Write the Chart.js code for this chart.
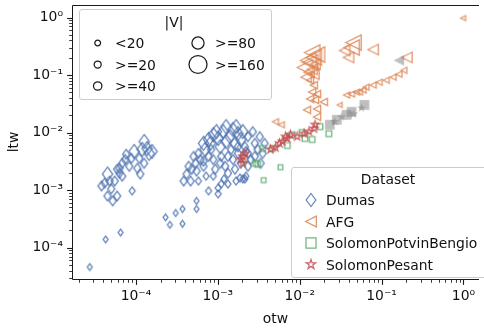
<!DOCTYPE html>
<html>
<head>
<meta charset="utf-8">
<script src="https://cdn.jsdelivr.net/npm/chart.js@4"></script>
<style>
html,body{margin:0;padding:0;background:#fff;}
#wrap{position:relative;width:484px;height:333px;overflow:hidden;font-family:'DejaVu Sans',sans-serif;}
#c{position:absolute;left:0;top:0;}
.lg{position:absolute;border:1px solid #cccccc;border-radius:3px;background:rgba(255,255,255,0.8);box-sizing:border-box;}
.t{position:absolute;font-size:13.9px;line-height:14px;color:#111;white-space:nowrap;transform:translateY(-50%);}
.tc{transform:translate(-50%,-50%);}
#lsvg{position:absolute;left:0;top:0;overflow:visible;}
</style>
</head>
<body>
<div id="wrap">
<canvas id="c" width="484" height="333"></canvas>
</div>
<script>
// ---------------- data ----------------
const dumasOtw = [1.37e-4,1.57e-4,1.19e-4,1.26e-4,1.1e-4,1.26e-4,1.04e-4,8.8e-5,7.6e-5,6.8e-5,8.3e-5,6.3e-5,6.8e-5,5.5e-5,4.5e-5,4.15e-5,3.8e-5,5.0e-5,4.5e-5,5.9e-5,5.2e-5,9.0e-5,7.4e-5,6.3e-5,1.13e-4,4.27e-5,6.5e-5,2.73e-5,
  9.5e-5,1.45e-4,5.9e-5,4.76e-5,
  2.3e-4,2.6e-4,3.06e-4,3.7e-4,3.7e-4,5.5e-4,5.5e-4,
  7.7e-4,1.01e-3,1.01e-3,1.1e-3,1.33e-3,1.67e-3,1.86e-3,2.14e-3,2.2e-3,
  3.83e-4,4.65e-4,4.16e-4,4.8e-4,5.5e-4,5.35e-4,6.1e-4,5.8e-4,7.0e-4,6.7e-4,7.7e-4,8.8e-4,9.6e-4,1.01e-3,8.3e-4,8.8e-4,9.3e-4,1.1e-3,1.23e-3,1.33e-3,6.7e-4,
  1.53e-3,1.76e-3,1.62e-3,1.91e-3,1.26e-3,2.14e-3,2.33e-3,2.53e-3,2.83e-3,3.07e-3,1.76e-3,1.53e-3,1.91e-3,2.83e-3,3.34e-3,3.73e-3,1.62e-3,1.45e-3,2.33e-3,2.02e-3,
  4.4e-4,5.05e-4,6.7e-4,7.7e-4,8.1e-4,1.07e-3,1.16e-3,1.26e-3,1.41e-3,1.67e-3,2.02e-3,2.33e-3,2.67e-3,3.25e-3,3.53e-3,2.2e-3,1.76e-3,1.33e-3,1.07e-3,7.2e-4,5.8e-4,8.8e-4,1.19e-3];
const dumasLtw = [5.3e-3,4.7e-3,5.1e-3,7.0e-3,3.57e-3,2.93e-3,2.4e-3,3.57e-3,4.2e-3,2.93e-3,2.6e-3,1.97e-3,1.75e-3,1.44e-3,1.9e-3,1.33e-3,1.18e-3,1.05e-3,7.9e-4,7.9e-4,6.5e-4,9.7e-4,3.4e-3,2.4e-3,1.9e-3,1.39e-4,1.83e-4,4.6e-5,
  4.7e-3,4.35e-3,2.31e-3,1.44e-3,
  3.36e-4,2.5e-4,4.0e-4,4.7e-4,2.6e-4,6.5e-4,4.7e-4,
  9.7e-4,1.09e-3,8.6e-4,1.28e-3,1.28e-3,1.44e-3,1.62e-3,1.56e-3,1.75e-3,
  1.44e-3,1.44e-3,1.9e-3,2.31e-3,2.14e-3,2.93e-3,3.4e-3,4.35e-3,5.1e-3,6.5e-3,7.6e-3,9.2e-3,1.04e-2,7.9e-3,5.1e-3,3.4e-3,2.31e-3,3.86e-3,2.6e-3,1.97e-3,3.17e-3,
  1.13e-2,9.6e-3,6.5e-3,7.6e-3,7.0e-3,5.7e-3,4.35e-3,3.4e-3,6.5e-3,5.1e-3,4.35e-3,3.4e-3,2.93e-3,3.86e-3,2.93e-3,6.5e-3,2.31e-3,5.1e-3,2.6e-3,1.56e-3,
  2.6e-3,3.86e-3,2.6e-3,3.86e-3,6.5e-3,5.7e-3,1.04e-2,1.27e-2,8.5e-3,1.27e-2,1.04e-2,8.5e-3,1.04e-2,8.5e-3,4.35e-3,4.7e-3,5.7e-3,3.86e-3,2.93e-3,1.75e-3,1.44e-3,1.75e-3,1.56e-3];
const dumasV = [120,120,120,120,60,60,60,60,60,60,60,60,60,60,120,60,60,60,60,60,60,30,60,60,60,15,15,15,
  120,120,60,60,
  15,15,15,15,15,15,15,
  30,30,30,30,30,30,30,30,30,
  60,60,60,60,60,60,60,60,120,120,120,120,120,120,60,60,60,60,60,60,60,
  120,120,120,120,120,60,60,60,60,60,60,60,60,60,60,60,60,60,60,30,
  60,60,60,60,120,120,120,120,120,120,120,60,60,60,60,60,60,60,60,30,30,30,30];

const afgOtw = [1.42e-2,1.49e-2,1.34e-2,1.27e-2,1.63e-2,1.54e-2,1.42e-2,1.3e-2,1.49e-2,1.34e-2,1.49e-2,1.42e-2,1.34e-2,1.54e-2,1.97e-2,1.23e-2,1.63e-2,1.63e-2,
  1.16e-2,1.2e-2,1.63e-2,
  4.54e-2,4.3e-2,3.54e-2,3.95e-2,7.9e-2,0.204,0.99,
  3.08e-2,3.74e-2,4.3e-2,4.93e-2,5.37e-2,5.94e-2,6.46e-2,7.9e-2,9.35e-2,0.114,0.138,0.163,0.187,
  5.06e-3,5.97e-3];
const afgLtw = [0.247,0.203,0.166,0.18,0.228,0.154,0.126,0.112,0.1035,8.15e-2,6.7e-2,5.07e-2,3.85e-2,3.7e-2,3.41e-2,2.49e-2,2.59e-2,1.88e-2,
  0.136,9.2e-2,4.69e-2,
  0.367,0.301,0.267,0.203,0.278,0.203,0.98,
  3.03e-2,4.5e-2,4.69e-2,5.07e-2,5.07e-2,5.49e-2,6.18e-2,6.7e-2,7.5e-2,8.15e-2,9.2e-2,0.1035,0.121,
  1.55e-2,1.37e-2];
const afgV = [200,200,200,200,200,120,120,120,120,60,60,60,60,60,60,60,60,60,
  200,120,60,
  200,200,120,120,120,120,15,
  15,30,30,30,30,30,30,30,30,30,30,30,30,
  30,30];

const spbOtw = [2.08e-3,2.9e-3,3.53e-3,3.07e-3,3.63e-3,5.82e-3,4.66e-3,7.06e-3,8.1e-3,1.07e-2,1.16e-2,1.42e-2,1.77e-2,2.27e-2];
const spbLtw = [3.57e-3,2.93e-3,5.3e-3,2.82e-3,1.49e-3,2.5e-3,5.3e-3,5.97e-3,9.2e-3,1.0e-2,7.9e-3,7.6e-3,1.27e-2,9.6e-3];
const spbV = [60,30,30,30,15,15,30,30,30,30,30,30,30,30];

const spOtw = [2.02e-3,1.91e-3,2.02e-3,2.14e-3,4.4e-3,5.07e-3,5.66e-3,6.15e-3,6.7e-3,7.06e-3,7.7e-3,9.3e-3,1.13e-2,1.3e-2,1.5e-2,1.54e-2];
const spLtw = [3.86e-3,3.4e-3,2.93e-3,4.35e-3,5.1e-3,5.5e-3,6.5e-3,7.0e-3,8.5e-3,7.9e-3,9.2e-3,8.5e-3,9.6e-3,1.04e-2,1.17e-2,1.37e-2];
const spV = [30,30,30,30,30,30,30,30,30,30,30,30,30,30,30,30];

// grey (unlabelled) points
const greyOtw = [2.33e-2,2.84e-2,2.69e-2,3.26e-2,3.74e-2,4.3e-2,4.54e-2,5.68e-2,6.17e-2,0.163];
const greyLtw = [1.37e-2,1.67e-2,1.55e-2,1.88e-2,2.04e-2,2.3e-2,2.12e-2,2.69e-2,3.03e-2,0.18];
const greyV = [90,90,60,60,90,90,60,60,120,120];
const greyKind = ['s','s','*','*','s','s','*','*','s','<'];

const xTickExps = [-4,-3,-2,-1,0];
const yTickExps = [-4,-3,-2,-1,0];
const sizeBins = ['<20','>=20','>=40','>=80','>=160'];
const sizeEdges = [20,40,80,160];
const datasetNames = ['Dumas','AFG','SolomonPotvinBengio','SolomonPesant'];
const xTitle = 'otw', yTitle = 'ltw', sizeTitle = '|V|', hueTitle = 'Dataset';

// ---------------- styling ----------------
const FONT = "'DejaVu Sans', sans-serif";
const FS = 13.9;
const X_MIN = 1.657e-5, X_MAX = 1.549, Y_MIN = 2.85e-5, Y_MAX = 1.654;
const SIZE_PX = [5.8, 7, 8.4, 12.2, 18];
const MARK_SCALE = {d: 1.15, '<': 0.95, s: 0.95, '*': 1.05};
const COLORS = ['rgba(76,114,176,0.85)','rgba(221,132,82,0.85)','rgba(85,168,104,0.85)','rgba(196,78,82,0.85)'];
const SHAPES = ['d','<','s','*'];
const GREY = 'rgba(128,128,128,0.5)';

function sizeClass(v){ let c = 0; for (const e of sizeEdges) if (v >= e) c++; return c; }

function shapePath(shape, cx, cy, d){
  if (shape === 'd'){ const h=d/2, w=d*0.37; return `M${cx},${cy-h}L${cx+w},${cy}L${cx},${cy+h}L${cx-w},${cy}Z`; }
  if (shape === '<'){ const s=d*0.45; return `M${cx-s},${cy}L${cx+s},${cy-s}L${cx+s},${cy+s}Z`; }
  if (shape === 's'){ const s=d*0.42; return `M${cx-s},${cy-s}H${cx+s}V${cy+s}H${cx-s}Z`; }
  if (shape === '*'){ let p=''; const R=d*0.55, r=R*0.382;
    for (let i=0;i<10;i++){ const a=-Math.PI/2+i*Math.PI/5, rr=i%2?r:R;
      p += (i?'L':'M')+(cx+rr*Math.cos(a)).toFixed(2)+','+(cy+rr*Math.sin(a)).toFixed(2); }
    return p+'Z'; }
  const r=d/2; return `M${cx-r},${cy}A${r},${r} 0 1 0 ${cx+r},${cy}A${r},${r} 0 1 0 ${cx-r},${cy}Z`;
}

const cache = {};
function marker(shape, stroke, fill, cls){
  const d = SIZE_PX[cls] * MARK_SCALE[shape];
  const key = shape+'|'+stroke+'|'+fill+'|'+cls;
  if (cache[key]) return cache[key];
  const n = Math.ceil(d*1.2 + 4);
  const c = document.createElement('canvas'); c.width = n; c.height = n;
  const g = c.getContext('2d');
  const p = new Path2D(shapePath(shape, n/2, n/2, d));
  if (fill){ g.fillStyle = fill; g.fill(p); }
  if (stroke){ g.strokeStyle = stroke; g.lineWidth = 1.3; g.lineJoin = 'miter'; g.stroke(p); }
  cache[key] = c; return c;
}

function build(xs, ys, vs, extra){
  return xs.map((x,i) => ({x, y: ys[i], v: vs[i], k: extra ? extra[i] : null}));
}
const series = [[dumasOtw,dumasLtw,dumasV],[afgOtw,afgLtw,afgV],[spbOtw,spbLtw,spbV],[spOtw,spLtw,spV]];
const datasets = series.map((s, i) => ({
  label: datasetNames[i],
  data: build(s[0], s[1], s[2]),
  order: 10 - i,
  pointRadius: 3,
  pointStyle: ctx => ctx.raw ? marker(SHAPES[i], COLORS[i], null, sizeClass(ctx.raw.v)) : 'circle'
}));
datasets.push({
  label: 'other',
  data: build(greyOtw, greyLtw, greyV, greyKind),
  order: 1,
  pointRadius: 3,
  pointStyle: ctx => ctx.raw ? marker(ctx.raw.k, null, GREY, sizeClass(ctx.raw.v)) : 'circle'
});

const SUP = {'-':'\u207B','0':'\u2070','1':'\u00B9','2':'\u00B2','3':'\u00B3','4':'\u2074','5':'\u2075','6':'\u2076','7':'\u2077','8':'\u2078','9':'\u2079'};
function fmt(exps){
  return v => {
    const e = Math.log10(v), r = Math.round(e);
    if (Math.abs(e - r) < 1e-6 && exps.includes(r)) return '10' + String(r).split('').map(ch => SUP[ch]).join('');
    return null;
  };
}

const axesPlugin = {
  id: 'mplAxes',
  afterDatasetsDraw(chart){
    const {ctx, chartArea: a, scales: {x, y}} = chart;
    ctx.save();
    ctx.strokeStyle = '#1a1a1a';
    ctx.lineWidth = 1;
    ctx.beginPath();
    ctx.moveTo(a.left + 0.5, a.top + 0.5); ctx.lineTo(a.left + 0.5, a.bottom + 0.5);
    ctx.lineTo(a.right, a.bottom + 0.5);
    ctx.moveTo(a.left + 0.5, a.top + 0.5); ctx.lineTo(a.right, a.top + 0.5);
    ctx.stroke();
    for (let e = -6; e <= 1; e++){
      for (let k = 1; k <= 9; k++){
        const v = k * Math.pow(10, e);
        const major = k === 1;
        ctx.lineWidth = major ? 1.1 : 0.85;
        const len = major ? 4.9 : 2.8;
        if (v >= x.min && v <= x.max){
          const px = Math.round(x.getPixelForValue(v)) + 0.5;
          ctx.beginPath(); ctx.moveTo(px, a.bottom + 1); ctx.lineTo(px, a.bottom + 1 + len); ctx.stroke();
        }
        if (v >= y.min && v <= y.max){
          const py = Math.round(y.getPixelForValue(v)) + 0.5;
          ctx.beginPath(); ctx.moveTo(a.left, py); ctx.lineTo(a.left - len, py); ctx.stroke();
        }
      }
    }
    ctx.restore();
  }
};

Chart.defaults.font.family = FONT;
new Chart(document.getElementById('c'), {
  type: 'scatter',
  data: {datasets},
  options: {
    responsive: false, animation: false, devicePixelRatio: 1,
    layout: {padding: {top: 2, left: 0, right: 0, bottom: 0}},
    plugins: {legend: {display: false}, tooltip: {enabled: false}},
    scales: {
      x: {
        type: 'logarithmic', min: X_MIN, max: X_MAX,
        afterFit: s => { s.height = 54; s.paddingLeft = 0; s.paddingRight = 0; },
        grid: {display: false, drawTicks: false}, border: {display: false},
        ticks: {autoSkip: false, maxRotation: 0, minRotation: 0, padding: 9, color: '#111', font: {family: FONT, size: FS}, callback: fmt(xTickExps)},
        title: {display: true, text: xTitle, color: '#111', font: {family: FONT, size: FS}, padding: {top: 0, bottom: 5}}
      },
      y: {
        type: 'logarithmic', min: Y_MIN, max: Y_MAX,
        afterFit: s => { s.width = 72; s.paddingTop = 0; s.paddingBottom = 0; },
        grid: {display: false, drawTicks: false}, border: {display: false},
        ticks: {autoSkip: false, padding: 9, color: '#111', font: {family: FONT, size: FS}, callback: fmt(yTickExps)},
        title: {display: true, text: yTitle, color: '#111', font: {family: FONT, size: FS}, padding: {top: 6, bottom: 0}}
      }
    }
  },
  plugins: [axesPlugin]
});

// ---------------- legends (HTML overlay) ----------------
const wrap = document.getElementById('wrap');
function box(l, t, w, h){ const d = document.createElement('div'); d.className = 'lg';
  Object.assign(d.style, {left: l+'px', top: t+'px', width: w+'px', height: h+'px'}); wrap.appendChild(d); }
function text(str, x, y, center){ const d = document.createElement('div'); d.className = 't' + (center ? ' tc' : '');
  d.textContent = str; d.style.left = x + 'px'; d.style.top = y + 'px'; wrap.appendChild(d); }
box(79, 9, 193, 91);
box(291, 167, 210, 111);
const NS = 'http://www.w3.org/2000/svg';
const svg = document.createElementNS(NS, 'svg');
svg.setAttribute('id', 'lsvg'); svg.setAttribute('width', '484'); svg.setAttribute('height', '333');
wrap.appendChild(svg);
function svgShape(shape, cx, cy, d, stroke){
  const p = document.createElementNS(NS, 'path');
  p.setAttribute('d', shapePath(shape, cx, cy, d));
  p.setAttribute('fill', 'none'); p.setAttribute('stroke', stroke); p.setAttribute('stroke-width', '1.25');
  svg.appendChild(p);
}
// size legend
text(sizeTitle, 174, 22, true);
const sizePos = [[97.7,43,115],[97.7,64.5,115],[97.7,86,115],[198,43,215],[198,64.5,215]];
sizeBins.forEach((lab, i) => {
  const [mx, my, tx] = sizePos[i];
  svgShape('o', mx, my, SIZE_PX[i], '#1a1a1a');
  text(lab, tx, my);
});
// dataset legend
text(hueTitle, 388, 178.5, true);
const hueRowY = [200, 221.5, 243, 264.5];
const hueMarkD = [13, 12, 12, 9];
datasetNames.forEach((lab, i) => {
  svgShape(SHAPES[i], 311, hueRowY[i], hueMarkD[i], COLORS[i]);
  text(lab, 326, hueRowY[i]);
});
</script>
</body>
</html>
